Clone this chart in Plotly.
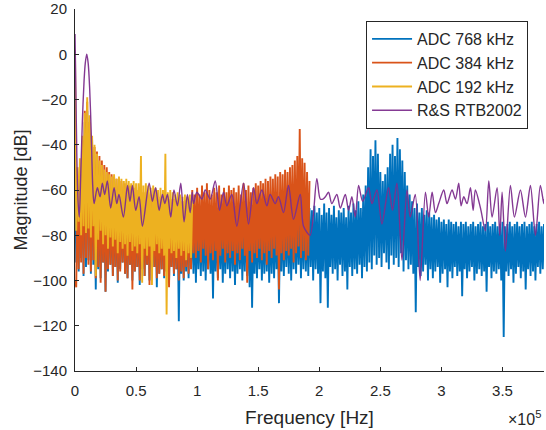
import numpy as np
import plotly.graph_objects as go

# ---------------- data (magnitudes in dB) ----------------
# ADC 768 kHz : one value per 1 kHz bin, 0 .. 384 kHz
adc768_db = [
    -49, -92, -55, -96, -50, -90, -42, -98, -30, -94,
    -25, -91, -35, -97, -42, -93, -55, -104, -58, -95,
    -60, -99, -62, -92, -61, -105, -63, -96, -62, -93,
    -64, -98, -63, -94, -65, -101, -64, -95, -66, -92,
    -65, -97, -66, -99, -64, -93, -67, -100, -66, -96,
    -67, -94, -66, -102, -68, -95, -67, -98, -68, -93,
    -67, -100, -69, -96, -68, -94, -69, -103, -68, -97,
    -70, -95, -69, -99, -70, -96, -69, -101, -71, -94,
    -70, -98, -71, -95, -70, -118, -71, -97, -72, -100,
    -71, -96, -72, -99, -71, -94, -72, -97, -72, -101,
    -73, -95, -72, -98, -73, -96, -72, -100, -73, -95,
    -72, -97, -73, -108, -72, -96, -73, -99, -74, -95,
    -73, -101, -74, -97, -73, -95, -74, -99, -73, -96,
    -74, -102, -73, -97, -74, -95, -73, -100, -74, -96,
    -73, -98, -74, -103, -73, -112, -74, -97, -73, -99,
    -72, -95, -73, -100, -72, -97, -73, -96, -72, -101,
    -72, -97, -71, -99, -72, -95, -71, -110, -72, -96,
    -70, -98, -71, -94, -70, -97, -69, -100, -70, -95,
    -69, -97, -70, -93, -69, -99, -70, -95, -69, -96,
    -70, -98, -68, -94, -69, -100, -67, -95, -70, -97,
    -68, -110, -71, -96, -66, -99, -70, -112, -68, -94,
    -71, -97, -67, -95, -72, -100, -69, -93, -70, -98,
    -68, -96, -72, -104, -67, -94, -70, -98, -66, -95,
    -69, -97, -65, -93, -68, -99, -62, -94, -58, -96,
    -50, -92, -42, -95, -45, -89, -38, -93, -44, -90,
    -52, -94, -56, -88, -53, -92, -50, -95, -44, -89,
    -40, -93, -45, -90, -37, -94, -42, -88, -47, -96,
    -52, -91, -58, -95, -62, -93, -65, -97, -68, -114,
    -66, -94, -70, -98, -68, -96, -71, -93, -69, -100,
    -70, -95, -72, -99, -71, -96, -73, -94, -72, -101,
    -74, -97, -73, -95, -75, -103, -73, -96, -74, -99,
    -75, -94, -74, -98, -76, -96, -74, -107, -75, -95,
    -74, -99, -76, -96, -75, -94, -74, -100, -76, -97,
    -75, -95, -74, -98, -76, -96, -75, -105, -74, -94,
    -76, -99, -75, -96, -74, -97, -76, -95, -75, -100,
    -74, -125, -76, -96, -75, -98, -74, -95, -76, -101,
    -75, -97, -74, -94, -76, -99, -75, -96, -74, -104,
    -76, -95, -75, -98, -74, -96, -76, -100, -75, -94,
    -74, -97, -76, -95, -75,
]

# ADC 384 kHz : one value per 1 kHz bin, 0 .. 192 kHz
adc384_db = [
    -100, -103, -56, -95, -50, -92, -38, -97, -25, -90,
    -21, -93, -30, -96, -38, -91, -41, -99, -43, -94,
    -45, -101, -47, -92, -49, -105, -50, -95, -52, -93,
    -53, -98, -54, -94, -55, -100, -55, -96, -56, -92,
    -57, -97, -57, -99, -58, -93, -58, -104, -59, -96,
    -59, -94, -60, -100, -60, -95, -61, -98, -61, -93,
    -61, -102, -62, -96, -62, -94, -62, -99, -63, -97,
    -63, -95, -63, -98, -63, -96, -64, -103, -64, -94,
    -64, -97, -64, -95, -65, -100, -64, -96, -65, -99,
    -65, -94, -64, -97, -65, -95, -60, -88, -62, -90,
    -59, -87, -62, -92, -58, -86, -61, -89, -57, -95,
    -60, -88, -62, -91, -59, -87, -61, -100, -58, -89,
    -62, -86, -59, -92, -61, -88, -58, -90, -60, -87,
    -59, -93, -61, -88, -58, -91, -62, -86, -57, -89,
    -60, -101, -58, -87, -61, -92, -59, -88, -57, -90,
    -58, -86, -56, -91, -57, -88, -55, -93, -56, -87,
    -54, -90, -55, -86, -53, -89, -54, -104, -52, -88,
    -53, -91, -51, -87, -52, -89, -50, -86, -49, -92,
    -47, -88, -45, -85, -33, -90, -46, -87, -48, -91,
    -52, -89, -56,
]

# ADC 192 kHz : one value per 1 kHz bin, 0 .. 96 kHz
adc192_db = [
    2, -78, -50, -74, -46, -80, -36, -76, -26, -79,
    -19, -77, -27, -81, -36, -76, -40, -98, -44, -82,
    -47, -78, -49, -84, -51, -80, -52, -86, -53, -81,
    -54, -85, -53, -82, -55, -88, -54, -83, -55, -86,
    -56, -84, -55, -89, -56, -83, -57, -87, -56, -85,
    -57, -88, -57, -84, -45, -101, -58, -86, -57, -89,
    -58, -85, -59, -102, -58, -87, -59, -84, -60, -88,
    -59, -86, -60, -89, -44, -115, -61, -86, -60, -88,
    -61, -87, -62, -90, -61, -86, -62, -89, -63, -87,
    -62, -91, -63, -88, -62, -90, -64,
]
bin_khz = 1.0  # frequency bin width of the ADC spectra

# R&S RTB2002 : smooth trace, (kHz, dB) pairs
rtb_khz = [
    0, 0.7, 1.5, 2.5, 3.5, 4.6, 6.0, 7.4, 8.4, 9.6, 10.8, 12.0, 13.3, 14.5,
    15.6, 18.3, 20.5, 22.4, 24.3, 26.5, 29.2, 32.0, 34.2, 36.0, 39.6, 43.0,
    45.0, 47.0, 49.7, 52.5, 55.2, 60.7, 63.4, 66.0, 68.9, 71.6, 73.5, 75.7,
    78.4, 81.0, 83.9, 86.6, 89.3, 92.0, 94.3, 96.0, 97.0, 99.8, 103.9, 106.6,
    110.7, 114.8, 118.3, 121.6, 124.3, 128.4, 132.5, 138.0, 142.1, 146.2,
    148.9, 153.0, 157.1, 159.8, 163.9, 166.6, 170.7, 174.8, 178.9, 184.4,
    187.1, 192.5, 198.0, 200.8, 203.0, 205.0, 207.6, 210.3, 214.4, 217.2,
    221.3, 224.0, 226.7, 229.5, 232.2, 235.5, 240.4, 243.1, 247.2, 251.3,
    256.7, 260.0, 263.6, 267.7, 271.8, 274.5, 278.6, 282.6, 286.9, 289.6,
    292.4, 295.1, 297.8, 301.9, 304.6, 308.7, 311.5, 314.2, 316.1, 318.3,
    321.0, 323.8, 326.0, 327.8, 332.0, 336.0, 338.8, 341.5, 345.6, 347.8,
    349.7, 352.4, 356.5, 359.8, 364.7, 368.8, 372.9, 377.0, 381.0, 383.8,
    384.0,
]
rtb_db = [
    9, -15, -45, -65, -72, -55, -30, -12, -4, 0, -4, -15, -35, -58,
    -66, -59, -63, -57, -62, -56, -68, -59, -66, -62, -72, -58,
    -65, -58, -69, -63, -76, -57, -65, -59, -69, -62, -66, -62,
    -72, -60, -67, -57, -74, -62, -70, -61, -66, -61, -64, -60,
    -64, -56, -69, -61, -67, -62, -76, -57, -75, -59,
    -66, -60, -67, -62, -66, -63, -70, -58, -73, -62,
    -76, -80, -55, -64, -64, -63, -61, -66, -62, -68,
    -62, -69, -63, -72, -58, -65, -59, -66, -60, -75,
    -59, -69, -57, -91, -60, -72, -62, -100, -61, -72,
    -61, -70, -66, -60, -66, -60, -64, -57, -67, -63,
    -66, -59, -69, -60, -68, -78, -56, -72, -59, -80,
    -61, -87, -58, -72, -60, -72, -58, -80, -58, -66,
    -64,
]

series_names = ["ADC 768 kHz", "ADC 384 kHz", "ADC 192 kHz", "R&S RTB2002"]
x_tick_vals = [0, 0.5e5, 1.0e5, 1.5e5, 2.0e5, 2.5e5, 3.0e5, 3.5e5]
x_tick_text = ["0", "0.5", "1", "1.5", "2", "2.5", "3", "3.5"]
y_tick_vals = [20, 0, -20, -40, -60, -80, -100, -120, -140]

# ---------------- figure ----------------
colors = ["#0072BD", "#D95319", "#EDB120", "#7E2F8E"]
FONT = "Liberation Sans, Arial, Helvetica, sans-serif"
TXT = "#262626"

fig = go.Figure()
for name, vals, col in zip(series_names[:3], [adc768_db, adc384_db, adc192_db], colors[:3]):
    f_hz = np.arange(len(vals)) * bin_khz * 1e3
    fig.add_trace(go.Scatter(
        x=f_hz, y=vals, mode="lines", name=name,
        line=dict(color=col, width=1.9, simplify=False), opacity=1.0,
    ))
fig.add_trace(go.Scatter(
    x=np.array(rtb_khz) * 1e3, y=rtb_db, mode="lines", name=series_names[3],
    line=dict(color=colors[3], width=1.4, shape="spline", smoothing=0.8),
    opacity=0.95,
))

axis_common = dict(
    showgrid=False, zeroline=False, showline=True, linecolor=TXT, linewidth=1,
    ticks="inside", ticklen=4, tickcolor=TXT, mirror=False, automargin=False,
    tickfont=dict(family=FONT, size=15, color=TXT),
)
fig.update_layout(
    width=546, height=430,
    margin=dict(l=75, r=2, t=9, b=59),
    paper_bgcolor="white", plot_bgcolor="white",
    font=dict(family=FONT, color=TXT),
    showlegend=True,
    legend=dict(
        x=0.966, y=0.967, xanchor="right", yanchor="top",
        bgcolor="white", bordercolor=TXT, borderwidth=1,
        font=dict(family=FONT, size=16, color=TXT),
        tracegroupgap=0, itemwidth=40,
    ),
    xaxis=dict(
        range=[0, 384000], tickvals=x_tick_vals, ticktext=x_tick_text,
        title=dict(text="Frequency [Hz]", font=dict(family=FONT, size=19, color=TXT), standoff=12),
        ticklabelstandoff=6,
        **axis_common,
    ),
    yaxis=dict(
        range=[-140, 20], tickvals=y_tick_vals,
        title=dict(text="Magnitude [dB]", font=dict(family=FONT, size=18, color=TXT), standoff=0),
        ticklabelstandoff=4,
        **axis_common,
    ),
)
fig.add_annotation(
    xref="paper", yref="paper", x=0.998, y=-0.13, xanchor="right", yanchor="middle",
    text="×10<sup>5</sup>", showarrow=False,
    font=dict(family=FONT, size=16, color=TXT),
)

fig.write_html("out.html", post_script="document.body.style.margin='0';",
               config={"displayModeBar": False})
